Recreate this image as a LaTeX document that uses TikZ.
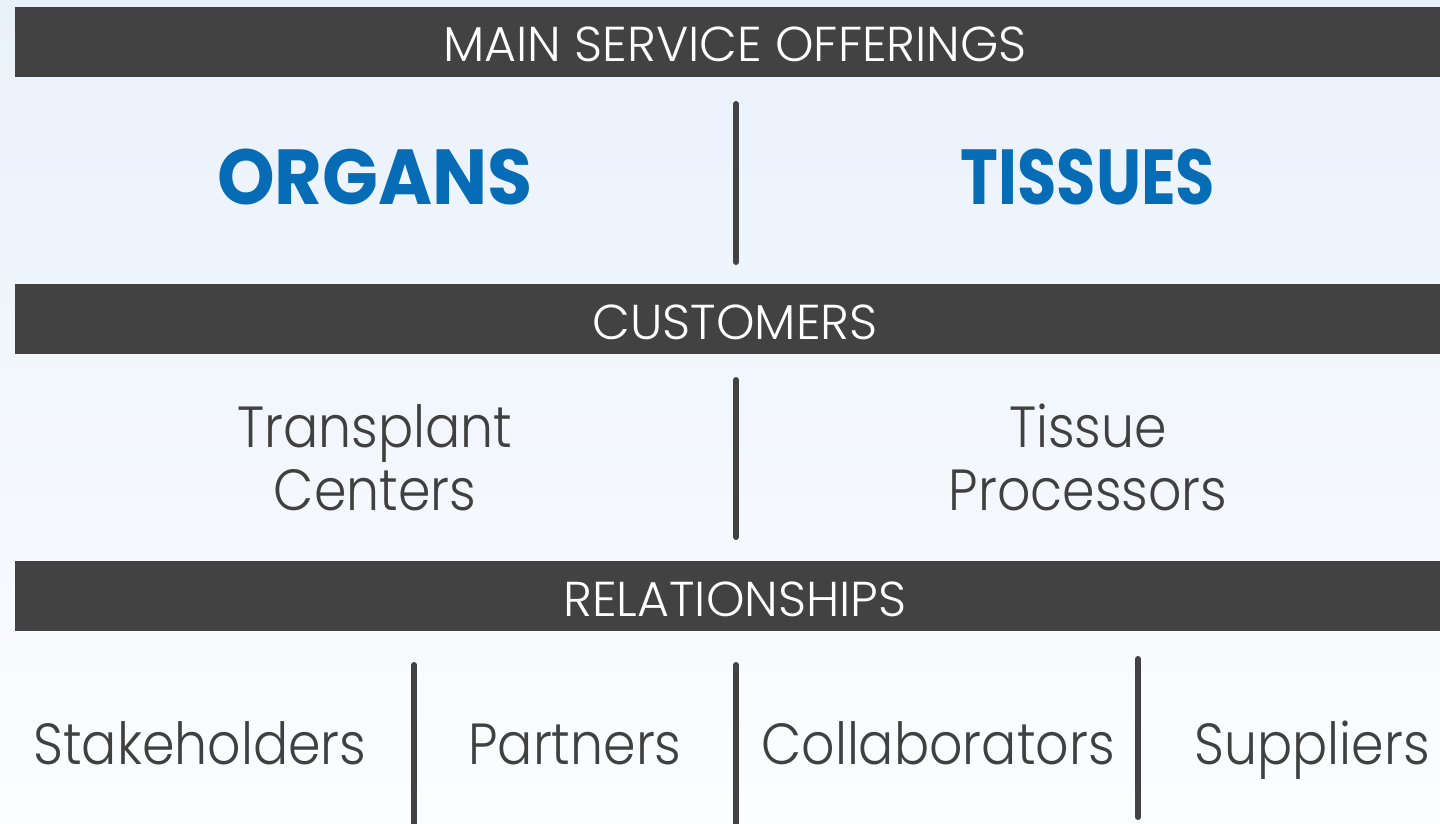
\documentclass[tikz,border=0pt]{standalone}
\usepackage{fontspec}
\setmainfont{Poppins}
\newfontfamily\bodyfont{Poppins Light}[FakeStretch=0.9]
\newfontfamily\headfont{Poppins Light}
\definecolor{bar}{RGB}{66,66,66}
\definecolor{txt}{RGB}{64,64,64}
\definecolor{blu}{RGB}{6,108,182}
\definecolor{bgtop}{RGB}{233,241,251}
\definecolor{bgbot}{RGB}{252,253,255}
\tikzset{
  barbox/.style={fill=bar,draw=none},
  bartext/.style={anchor=base,inner sep=0pt,text=white,font=\headfont\fontsize{24.5}{28}\selectfont},
  bigtext/.style={anchor=base,inner sep=0pt,text=blu,font=\fontsize{39}{44}\selectfont\bfseries},
  bodytext/.style={anchor=base,inner sep=0pt,text=txt,font=\bodyfont\fontsize{29}{31.5}\selectfont},
  sepline/.style={draw=bar,line width=3pt,line cap=round}
}
\begin{document}
\begin{tikzpicture}[x=0.5pt,y=-0.5pt]
\useasboundingbox (0,0) rectangle (1440,824);
\shade[top color=bgtop,bottom color=bgbot] (0,0) rectangle (1440,824);
% bars
\fill[barbox] (15,7) rectangle (1440,77);
\fill[barbox] (15,284) rectangle (1440,354);
\fill[barbox] (15,561) rectangle (1440,631);
\node[bartext] (h1) at (735,62) {MAIN SERVICE OFFERINGS};
\node[bartext] (h2) at (735,339) {CUSTOMERS};
\node[bartext] (h3) at (735,616) {RELATIONSHIPS};
% offerings
\node[bigtext] (organs) at (375,204) {\scalebox{0.94}[1]{ORGANS}};
\node[bigtext] (tissues) at (1088,204) {\scalebox{0.82}[1]{TISSUES}};
\coordinate (l1a) at (736,104);
\coordinate (l1b) at (736,262);
\draw[sepline] (l1a) -- (l1b);
% customers
\node[bodytext] (tc1) at (375,447) {Transplant};
\node[bodytext] (tc2) at (375,510) {Centers};
\node[bodytext] (tp1) at (1088,447) {Tissue};
\node[bodytext] (tp2) at (1088,510) {Processors};
\coordinate (l2a) at (736,380);
\coordinate (l2b) at (736,537);
\draw[sepline] (l2a) -- (l2b);
% relationships
\node[bodytext] (stake) at (200,764) {Stakeholders};
\node[bodytext] (part) at (575,764) {Partners};
\node[bodytext] (coll) at (938,764) {Collaborators};
\node[bodytext] (supp) at (1312,764) {Suppliers};
\coordinate (l3a) at (414,665);
\coordinate (l3b) at (414,830);
\coordinate (l4a) at (736,665);
\coordinate (l4b) at (736,830);
\coordinate (l5a) at (1138,659);
\coordinate (l5b) at (1138,817);
\draw[sepline] (l3a) -- (l3b);
\draw[sepline] (l4a) -- (l4b);
\draw[sepline] (l5a) -- (l5b);
\end{tikzpicture}
\end{document}
